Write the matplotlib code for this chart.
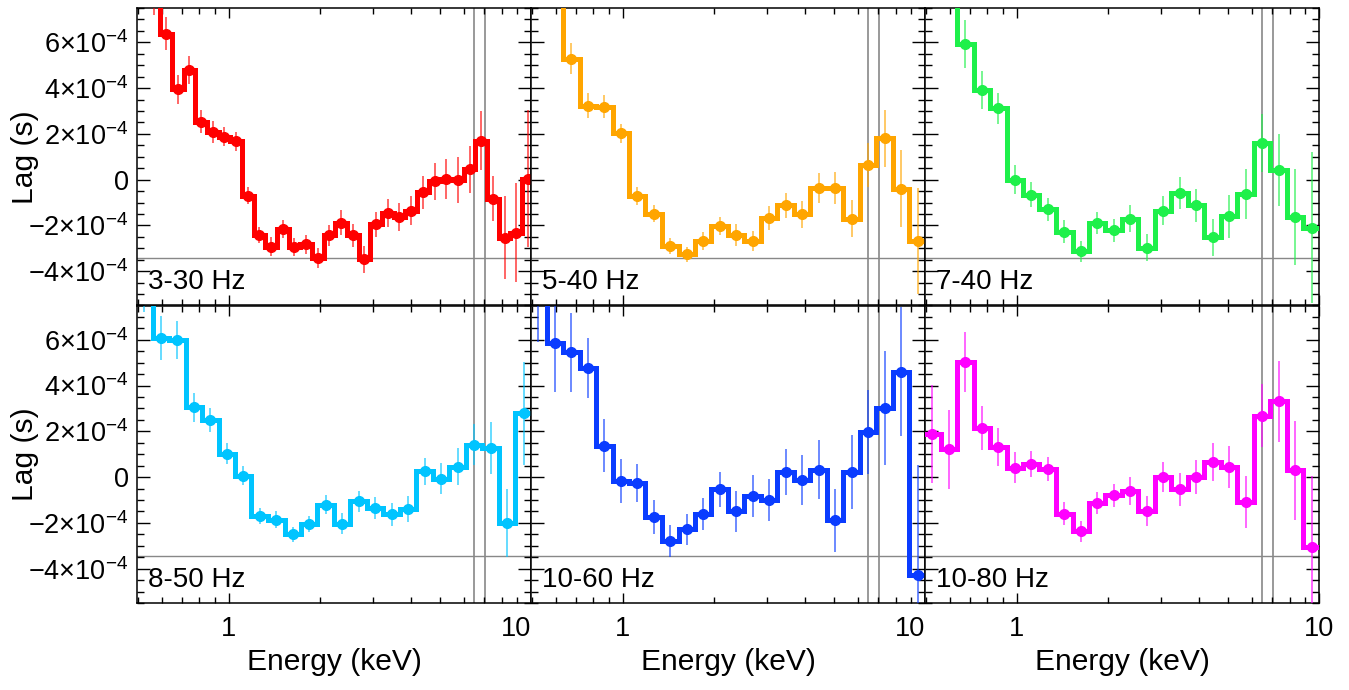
import matplotlib
matplotlib.use("Agg")
import matplotlib.pyplot as plt
import numpy as np

plt.rcParams['font.family'] = ['Liberation Sans', 'DejaVu Sans']
plt.rcParams['mathtext.fontset'] = 'custom'
plt.rcParams['mathtext.rm'] = 'Liberation Sans'
plt.rcParams['mathtext.it'] = 'Liberation Sans:italic'

# energy bin edges (keV)
edges_fine = [0.496, 0.543, 0.593, 0.648, 0.709, 0.775, 0.847, 0.925, 1.011, 1.105,
              1.208, 1.321, 1.443, 1.578, 1.724, 1.885, 2.060, 2.252, 2.461, 2.690,
              2.940, 3.213, 3.512, 3.839, 4.196, 4.586, 5.013, 5.479, 5.988, 6.545,
              7.154, 7.819, 8.546, 9.341, 10.21]
edges_coarse = [0.494, 0.560, 0.635, 0.720, 0.816, 0.925, 1.049, 1.189, 1.349, 1.529,
                1.734, 1.966, 2.229, 2.527, 2.865, 3.249, 3.683, 4.176, 4.735, 5.369,
                6.087, 6.902, 7.825, 8.872, 10.06]

# lags in units of 1e-4 s
lag_3_30 = [12.0, 8.2, 6.38, 3.94, 4.78, 2.54, 2.10, 1.88, 1.67, -0.70, -2.43, -2.93,
            -2.14, -2.94, -2.83, -3.41, -2.43, -1.88, -2.43, -3.48, -1.96, -1.45, -1.62,
            -1.35, -0.55, -0.07, 0.03, 0.0, 0.46, 1.71, -0.83, -2.54, -2.32, 0.04]
err_3_30 = [1.0, 1.0, 0.72, 0.65, 0.61, 0.52, 0.48, 0.43, 0.43, 0.36, 0.36, 0.41, 0.39,
            0.41, 0.41, 0.43, 0.45, 0.55, 0.50, 0.58, 0.55, 0.62, 0.62, 0.65, 0.72, 0.80,
            0.88, 1.0, 1.03, 1.27, 0.98, 1.81, 2.17, 3.0]

lag_5_40 = [10.0, 9.0, 5.29, 3.23, 3.19, 2.03, -0.72, -1.48, -2.90, -3.26, -2.68, -2.03,
            -2.43, -2.68, -1.67, -1.12, -1.52, -0.36, -0.36, -1.70, 0.62, 1.81, -0.39, -2.68]
err_5_40 = [1.0, 1.0, 0.69, 0.55, 0.49, 0.41, 0.38, 0.37, 0.36, 0.33, 0.38, 0.38, 0.48,
            0.42, 0.51, 0.54, 0.58, 0.65, 0.70, 0.82, 0.96, 1.25, 1.67, 2.32]

lag_7_40 = [10.0, 9.0, 5.94, 3.91, 3.12, 0.0, -0.65, -1.30, -2.27, -3.14, -1.88, -2.22,
            -1.70, -2.97, -1.35, -0.58, -1.13, -2.51, -1.59, -0.62, 1.59, 0.41, -1.62, -2.10]
err_7_40 = [1.0, 1.0, 1.05, 0.82, 0.68, 0.62, 0.56, 0.50, 0.50, 0.45, 0.48, 0.49, 0.60,
            0.60, 0.64, 0.71, 0.71, 0.81, 0.94, 1.10, 1.27, 1.57, 2.10, 3.30]

lag_8_50 = [8.5, 6.06, 6.00, 3.05, 2.51, 1.02, 0.07, -1.70, -1.86, -2.50, -2.06, -1.21,
            -2.03, -1.06, -1.35, -1.63, -1.38, 0.25, -0.07, 0.46, 1.42, 1.26, -1.99, 2.79]
err_8_50 = [1.3, 0.96, 0.83, 0.62, 0.53, 0.46, 0.42, 0.36, 0.36, 0.33, 0.35, 0.41, 0.45,
            0.45, 0.49, 0.52, 0.57, 0.60, 0.67, 0.81, 0.91, 1.13, 1.49, 2.24]

lag_10_60 = [8.5, 5.88, 5.45, 4.76, 1.38, -0.15, -0.25, -1.74, -2.79, -2.28, -1.60, -0.54,
             -1.50, -0.83, -0.99, 0.22, -0.12, 0.33, -1.89, 0.22, 1.96, 3.02, 4.60, -4.26]
err_10_60 = [2.6, 2.15, 1.71, 1.31, 1.14, 0.96, 0.82, 0.76, 0.72, 0.67, 0.71, 0.75, 0.89,
             0.91, 0.93, 1.0, 1.1, 1.28, 1.38, 1.63, 1.84, 2.48, 2.82, 4.8]

lag_10_80 = [1.89, 1.21, 5.05, 2.15, 1.31, 0.41, 0.58, 0.36, -1.60, -2.37, -1.12, -0.80,
             -0.61, -1.48, 0.0, -0.54, 0.0, 0.65, 0.44, -1.09, 2.69, 3.31, 0.29, -3.05]
err_10_80 = [2.13, 1.74, 1.31, 0.97, 0.83, 0.67, 0.58, 0.52, 0.51, 0.46, 0.49, 0.52, 0.60,
             0.65, 0.65, 0.71, 0.73, 0.82, 0.93, 1.13, 1.38, 1.77, 2.16, 3.12]

labels = ["3-30 Hz", "5-40 Hz", "7-40 Hz", "8-50 Hz", "10-60 Hz", "10-80 Hz"]
colors = ["#ff0000", "#ffa500", "#1ef04a", "#00c4ff", "#0a3cff", "#ff00ff"]
lags = [lag_3_30, lag_5_40, lag_7_40, lag_8_50, lag_10_60, lag_10_80]
errs = [err_3_30, err_5_40, err_7_40, err_8_50, err_10_60, err_10_80]
edges = [edges_fine, edges_coarse, edges_coarse, edges_coarse, edges_coarse, edges_coarse]

line_energies = [6.48, 7.06]
hline_lag = -3.43

yticks = [-4, -2, 0, 2, 4, 6]
ytick_labels = [r"$-4{\times}10^{-4}$", r"$-2{\times}10^{-4}$", "0",
                r"$2{\times}10^{-4}$", r"$4{\times}10^{-4}$", r"$6{\times}10^{-4}$"]

fig, axes = plt.subplots(2, 3, figsize=(13.49, 6.9), dpi=100)
fig.subplots_adjust(left=137/1349, right=1319/1349, bottom=1-603/690, top=1-8/690,
                    wspace=0, hspace=0)

for i, ax in enumerate(axes.flat):
    e = np.array(edges[i])
    centers = np.sqrt(e[:-1]*e[1:])
    ax.axhline(hline_lag, color='#888888', lw=1.0, zorder=1)
    for le in line_energies:
        ax.axvline(le, color='#888888', lw=1.2, zorder=1)
    ax.stairs(lags[i], e, color=colors[i], lw=3.6, baseline=None, zorder=3)
    eb = ax.errorbar(centers, lags[i], yerr=errs[i], fmt='o', ms=7, color=colors[i],
                     ecolor=colors[i], elinewidth=1.2, zorder=4)
    for ln in eb.lines[2]:
        ln.set_alpha(0.7)

    ax.set_xscale('log')
    ax.set_xlim(0.497, 10.0)
    ax.set_ylim(-5.5, 7.5)
    ax.set_xticks([1, 10], ['1', '10'])
    ax.set_yticks(yticks, ytick_labels)
    ax.set_yticks(np.arange(-5.5, 7.6, 0.5), minor=True)
    ax.tick_params(axis='both', which='both', direction='in', top=True, right=True,
                   width=1.0, labelsize=19.5)
    ax.tick_params(axis='x', which='major', length=7.5, pad=9)
    ax.tick_params(axis='x', which='minor', length=4.5)
    ax.tick_params(axis='y', which='major', length=9.4, pad=6)
    ax.tick_params(axis='y', which='minor', length=4.8)
    for s in ax.spines.values():
        s.set_linewidth(1.1)

    row, col = divmod(i, 3)
    if row == 0:
        ax.tick_params(axis='x', labelbottom=False)
    else:
        ax.set_xlabel("Energy (keV)", fontsize=21.6, labelpad=5)
        if col < 2:
            ax.xaxis.get_major_ticks()[1].label1.set_horizontalalignment('right')
    if col > 0:
        ax.tick_params(axis='y', labelleft=False)
    else:
        ax.set_ylabel("Lag (s)", fontsize=21.6)
        ax.yaxis.set_label_coords(-0.249, 0.5)

    ax.text(0.028, 0.055, labels[i], transform=ax.transAxes, fontsize=20,
            ha='left', va='baseline')

plt.savefig("out.png", dpi=100)
